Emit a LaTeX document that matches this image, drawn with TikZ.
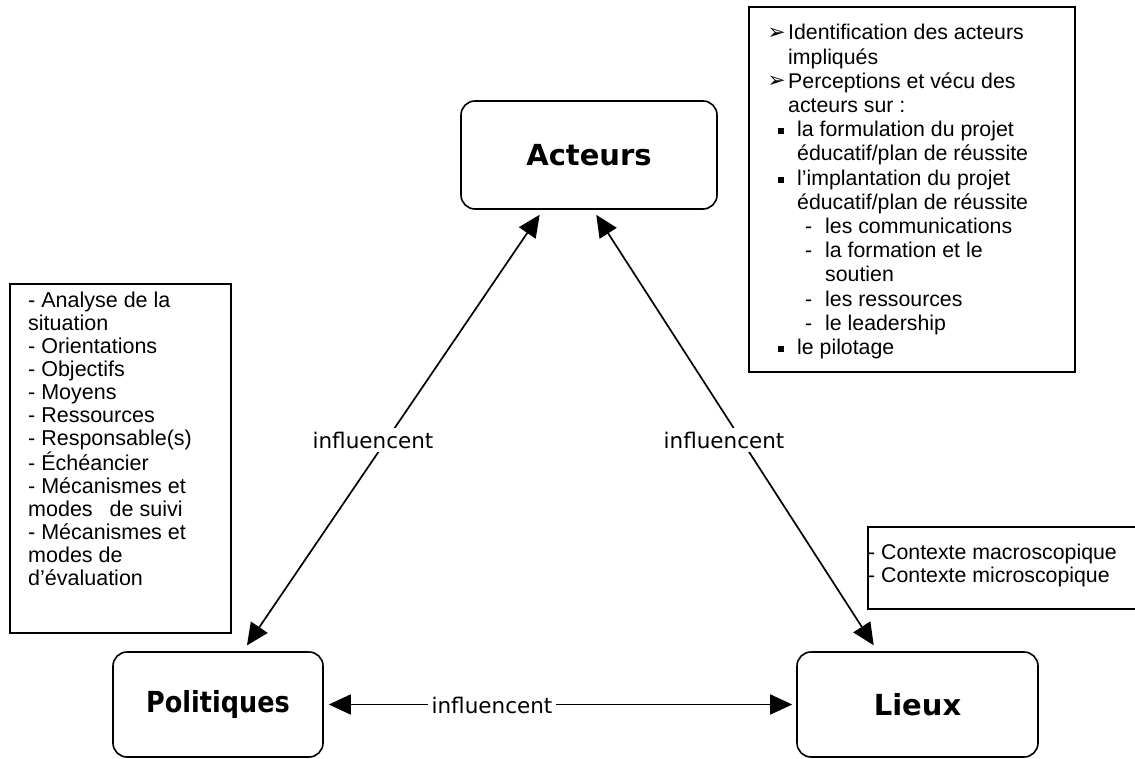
\documentclass[tikz,border=0pt]{standalone}
\usepackage{fontspec}
\setmainfont{Liberation Sans}
\newfontfamily\dejavu{DejaVu Sans}
\newfontfamily\titlefont{DejaVu Sans}
\newfontfamily\titlefontn[FakeStretch=0.88]{DejaVu Sans}
\usetikzlibrary{arrows.meta}
\newcommand{\arwbul}{\hspace*{-1.5pt}{\dejavu\fontsize{21.5}{21}\selectfont\raisebox{0.5pt}{➢}}}
\newcommand{\sqbul}{\rule[2.5pt]{6pt}{6pt}}
\begin{document}
\begin{tikzpicture}[x=1pt,y=-1pt,
  mainbox/.style={draw, line width=1.6pt, rounded corners=14pt, inner sep=0pt,
    font=\titlefont\bfseries\fontsize{29}{33}\selectfont},
  txtbox/.style={draw, line width=1.4pt},
  lbl/.style={fill=white, inner sep=4pt, anchor=base, font=\dejavu\fontsize{21.5}{26}\selectfont},
  arr/.style={line width=1.7pt, {Triangle[length=22pt,width=20pt]}-{Triangle[length=22pt,width=20pt]}},
  txt/.style={anchor=base west, inner sep=0pt}
]
\useasboundingbox (0,0) rectangle (1135,759);

% main concept boxes
\node[mainbox, minimum width=256pt, minimum height=108pt] (act) at (589,155) {Acteurs};
\node[mainbox, minimum width=210pt, minimum height=105pt] (pol) at (218,704.5) {\titlefontn Politiques};
\node[mainbox, minimum width=241pt, minimum height=105pt] (lie) at (917.5,704.5) {Lieux};

% connectors
\draw[arr, shorten <=6pt, shorten >=7pt] ([xshift=-46pt]act.south) -- ([xshift=25pt]pol.north);
\draw[arr, shorten <=6pt, shorten >=7pt] ([xshift=4pt]act.south) -- ([xshift=-40pt]lie.north);
\draw[arr, shorten <=5pt, shorten >=4pt] (pol.east) -- (lie.west);

% connector labels
\node[lbl] (l1) at (373,448) {influencent};
\node[lbl] (l2) at (724,448) {influencent};
\node[lbl] (l3) at (492,713) {influencent};

% text boxes
\draw[txtbox] (10,284) rectangle (231,633);
\draw[txtbox] (749,7) rectangle (1075,372);
\draw[txtbox] (1136,527) -- (868,527) -- (868,609) -- (1136,609);

\node[txt] (poltxt) at (28,308) {\parbox[t]{200pt}{\fontsize{21.5}{23}\selectfont\raggedright
- Analyse de la\\
situation\\
- Orientations\\
- Objectifs\\
- Moyens\\
- Ressources\\
- Responsable(s)\\
- Échéancier\\
- Mécanismes et\\
modes\hspace{11pt} de suivi\\
- Mécanismes et\\
modes de\\
d’évaluation}};

\node[txt] (acttxt) at (769,40) {\parbox[t]{300pt}{\fontsize{21.3}{24.2}\selectfont\raggedright
\makebox[19pt][l]{\arwbul}Identification des acteurs\\
\hspace*{19pt}impliqués\\
\makebox[19pt][l]{\arwbul}Perceptions et vécu des\\
\hspace*{19pt}acteurs sur :\\
\hspace*{9pt}\makebox[19pt][l]{\sqbul}la formulation du projet\\
\hspace*{28pt}éducatif/plan de réussite\\
\hspace*{9pt}\makebox[19pt][l]{\sqbul}l’implantation du projet\\
\hspace*{28pt}éducatif/plan de réussite\\
\hspace*{36pt}\makebox[20pt][l]{-}les communications\\
\hspace*{36pt}\makebox[20pt][l]{-}la formation et le\\
\hspace*{56pt}soutien\\
\hspace*{36pt}\makebox[20pt][l]{-}les ressources\\
\hspace*{36pt}\makebox[20pt][l]{-}le leadership\\
\hspace*{9pt}\makebox[19pt][l]{\sqbul}le pilotage}};

\node[txt] (lietxt) at (868,559) {\parbox[t]{270pt}{\fontsize{21.3}{23}\selectfont\raggedright
- Contexte macroscopique\\
- Contexte microscopique}};
\end{tikzpicture}
\end{document}
